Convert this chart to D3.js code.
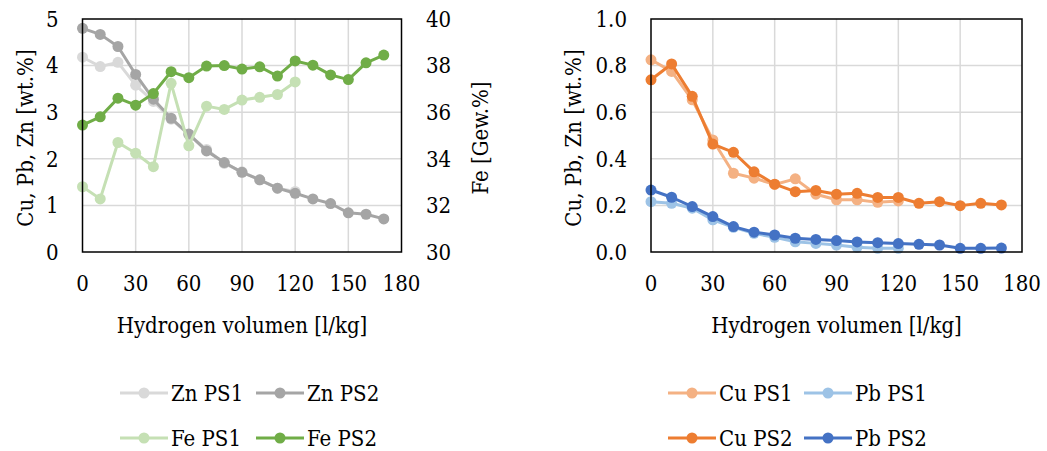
<!DOCTYPE html>
<html>
<head>
<meta charset="utf-8">
<title>Hydrogen volumen chart</title>
<script src="https://cdn.jsdelivr.net/npm/d3@7"></script>
<style>
  body { margin: 0; background: #fff; }
  svg text { font-family: "DejaVu Serif Condensed", "DejaVu Serif", serif; font-stretch: condensed; fill: #000; }
</style>
</head>
<body>
<svg id="chart" width="1047" height="451"></svg>
<script>
// x values (l/kg)
var xPS1 = [0,10,20,30,40,50,60,70,80,90,100,110,120];
var xPS2 = [0,10,20,30,40,50,60,70,80,90,100,110,120,130,140,150,160,170];

// left chart: Zn (left axis, wt.%), Fe (right axis, Gew.%)
var znPS1 = [4.18,3.98,4.07,3.58,3.23,2.85,2.52,2.2,1.9,1.72,1.55,1.37,1.3];
var znPS2 = [4.80,4.67,4.41,3.81,3.28,2.87,2.53,2.17,1.92,1.71,1.55,1.37,1.26,1.14,1.04,0.84,0.81,0.71];
var fePS1 = [32.8,32.28,34.7,34.24,33.66,37.24,34.56,36.26,36.12,36.52,36.64,36.76,37.3];
var fePS2 = [35.45,35.8,36.6,36.3,36.8,37.74,37.48,37.98,38.0,37.85,37.95,37.55,38.2,38.02,37.6,37.4,38.12,38.45];

// right chart: Cu, Pb (wt.%)
var cuPS1 = [0.825,0.775,0.653,0.481,0.338,0.317,0.29,0.314,0.248,0.224,0.224,0.213,0.219];
var cuPS2 = [0.739,0.807,0.668,0.463,0.428,0.344,0.291,0.259,0.264,0.248,0.252,0.234,0.234,0.209,0.216,0.199,0.209,0.202];
var pbPS1 = [0.216,0.209,0.188,0.138,0.106,0.08,0.063,0.044,0.037,0.03,0.02,0.016,0.016];
var pbPS2 = [0.266,0.235,0.195,0.152,0.109,0.085,0.073,0.059,0.054,0.049,0.043,0.04,0.036,0.033,0.03,0.016,0.016,0.017];

var xTicks = [0,30,60,90,120,150,180];
var leftTicks = [0,1,2,3,4,5];
var feTicks = [30,32,34,36,38,40];
var rightTicks = [0,0.2,0.4,0.6,0.8,1.0];

var svg = d3.select("#chart");
var fontSize = 22;

function pairs(xs, ys){
  return xs.map(function(x, i){ return [x, ys[i]]; });
}

function drawSeries(g, xScale, yScale, data, color){
  var line = d3.line().x(function(d){ return xScale(d[0]); }).y(function(d){ return yScale(d[1]); });
  g.append("path").datum(data)
    .attr("fill", "none").attr("stroke", color).attr("stroke-width", 3)
    .attr("stroke-linejoin", "round").attr("d", line);
  g.selectAll(null).data(data).enter().append("circle")
    .attr("cx", function(d){ return xScale(d[0]); })
    .attr("cy", function(d){ return yScale(d[1]); })
    .attr("r", 5.5).attr("fill", color);
}

function frame(x0, x1, y0, y1, yTicks, yFmt){
  var x = d3.scaleLinear().domain([0,180]).range([x0, x1]);
  var y = d3.scaleLinear().domain([yTicks[0], yTicks[yTicks.length-1]]).range([y1, y0]);
  var g = svg.append("g");
  // grid
  g.selectAll(null).data(xTicks.slice(1, -1)).enter().append("line")
    .attr("x1", function(d){ return x(d); }).attr("x2", function(d){ return x(d); })
    .attr("y1", y0).attr("y2", y1).attr("stroke", "#d9d9d9").attr("stroke-width", 1.5);
  g.selectAll(null).data(yTicks.slice(1, -1)).enter().append("line")
    .attr("y1", function(d){ return y(d); }).attr("y2", function(d){ return y(d); })
    .attr("x1", x0).attr("x2", x1).attr("stroke", "#d9d9d9").attr("stroke-width", 1.5);
  // x tick labels
  g.selectAll(null).data(xTicks).enter().append("text")
    .attr("x", function(d){ return x(d); }).attr("y", 291)
    .attr("text-anchor", "middle").style("font-size", fontSize + "px")
    .text(function(d){ return d; });
  // y tick labels
  g.selectAll(null).data(yTicks).enter().append("text")
    .attr("x", x0 - 24).attr("y", function(d){ return y(d); })
    .attr("dy", "0.35em").attr("text-anchor", "end").style("font-size", fontSize + "px")
    .text(yFmt);
  // x title
  g.append("text").attr("x", (x0 + x1) / 2).attr("y", 333)
    .attr("text-anchor", "middle").style("font-size", fontSize + "px")
    .text("Hydrogen volumen [l/kg]");
  return {x: x, y: y, g: g};
}

function border(x0, x1, y0, y1){
  svg.append("rect").attr("x", x0).attr("y", y0).attr("width", x1 - x0).attr("height", y1 - y0)
    .attr("fill", "none").attr("stroke", "#000").attr("stroke-width", 1.5);
}

function yTitle(cx, cy, txt){
  svg.append("text").attr("transform", "translate(" + cx + "," + cy + ") rotate(-90)")
    .attr("text-anchor", "middle").attr("dy", "0.35em").style("font-size", fontSize + "px")
    .text(txt);
}

function legendItem(x, y, color, label){
  var g = svg.append("g");
  g.append("line").attr("x1", x).attr("x2", x + 48).attr("y1", y).attr("y2", y)
    .attr("stroke", color).attr("stroke-width", 3);
  g.append("circle").attr("cx", x + 24).attr("cy", y).attr("r", 5.5).attr("fill", color);
  g.append("text").attr("x", x + 51).attr("y", y).attr("dy", "0.35em")
    .style("font-size", fontSize + "px").text(label);
}

// ---- left chart ----
var L = frame(82.5, 401.5, 19, 252, leftTicks, function(d){ return d; });
var yFe = d3.scaleLinear().domain([30, 40]).range([252, 19]);
L.g.selectAll(null).data(feTicks).enter().append("text")
  .attr("x", 426).attr("y", function(d){ return yFe(d); })
  .attr("dy", "0.35em").style("font-size", fontSize + "px")
  .text(function(d){ return d; });
yTitle(25, 138, "Cu, Pb, Zn [wt.%]");
yTitle(480, 138, "Fe [Gew.%]");
drawSeries(L.g, L.x, L.y, pairs(xPS1, znPS1), "#d9d9d9");
drawSeries(L.g, L.x, L.y, pairs(xPS2, znPS2), "#a5a5a5");
drawSeries(L.g, L.x, yFe, pairs(xPS1, fePS1), "#c5e0b4");
drawSeries(L.g, L.x, yFe, pairs(xPS2, fePS2), "#70ad47");
border(82.5, 401.5, 19, 252);

// ---- right chart ----
var R = frame(651, 1022, 19, 252, rightTicks, d3.format(".1f"));
yTitle(573, 138, "Cu, Pb, Zn [wt.%]");
drawSeries(R.g, R.x, R.y, pairs(xPS1, cuPS1), "#f4b183");
drawSeries(R.g, R.x, R.y, pairs(xPS1, pbPS1), "#9dc3e6");
drawSeries(R.g, R.x, R.y, pairs(xPS2, cuPS2), "#ed7d31");
drawSeries(R.g, R.x, R.y, pairs(xPS2, pbPS2), "#4472c4");
border(651, 1022, 19, 252);

// ---- legends ----
legendItem(120, 393, "#d9d9d9", "Zn PS1");
legendItem(256, 393, "#a5a5a5", "Zn PS2");
legendItem(120, 438, "#c5e0b4", "Fe PS1");
legendItem(256, 438, "#70ad47", "Fe PS2");
legendItem(668, 393, "#f4b183", "Cu PS1");
legendItem(804, 393, "#9dc3e6", "Pb PS1");
legendItem(668, 438, "#ed7d31", "Cu PS2");
legendItem(804, 438, "#4472c4", "Pb PS2");
</script>
</body>
</html>
